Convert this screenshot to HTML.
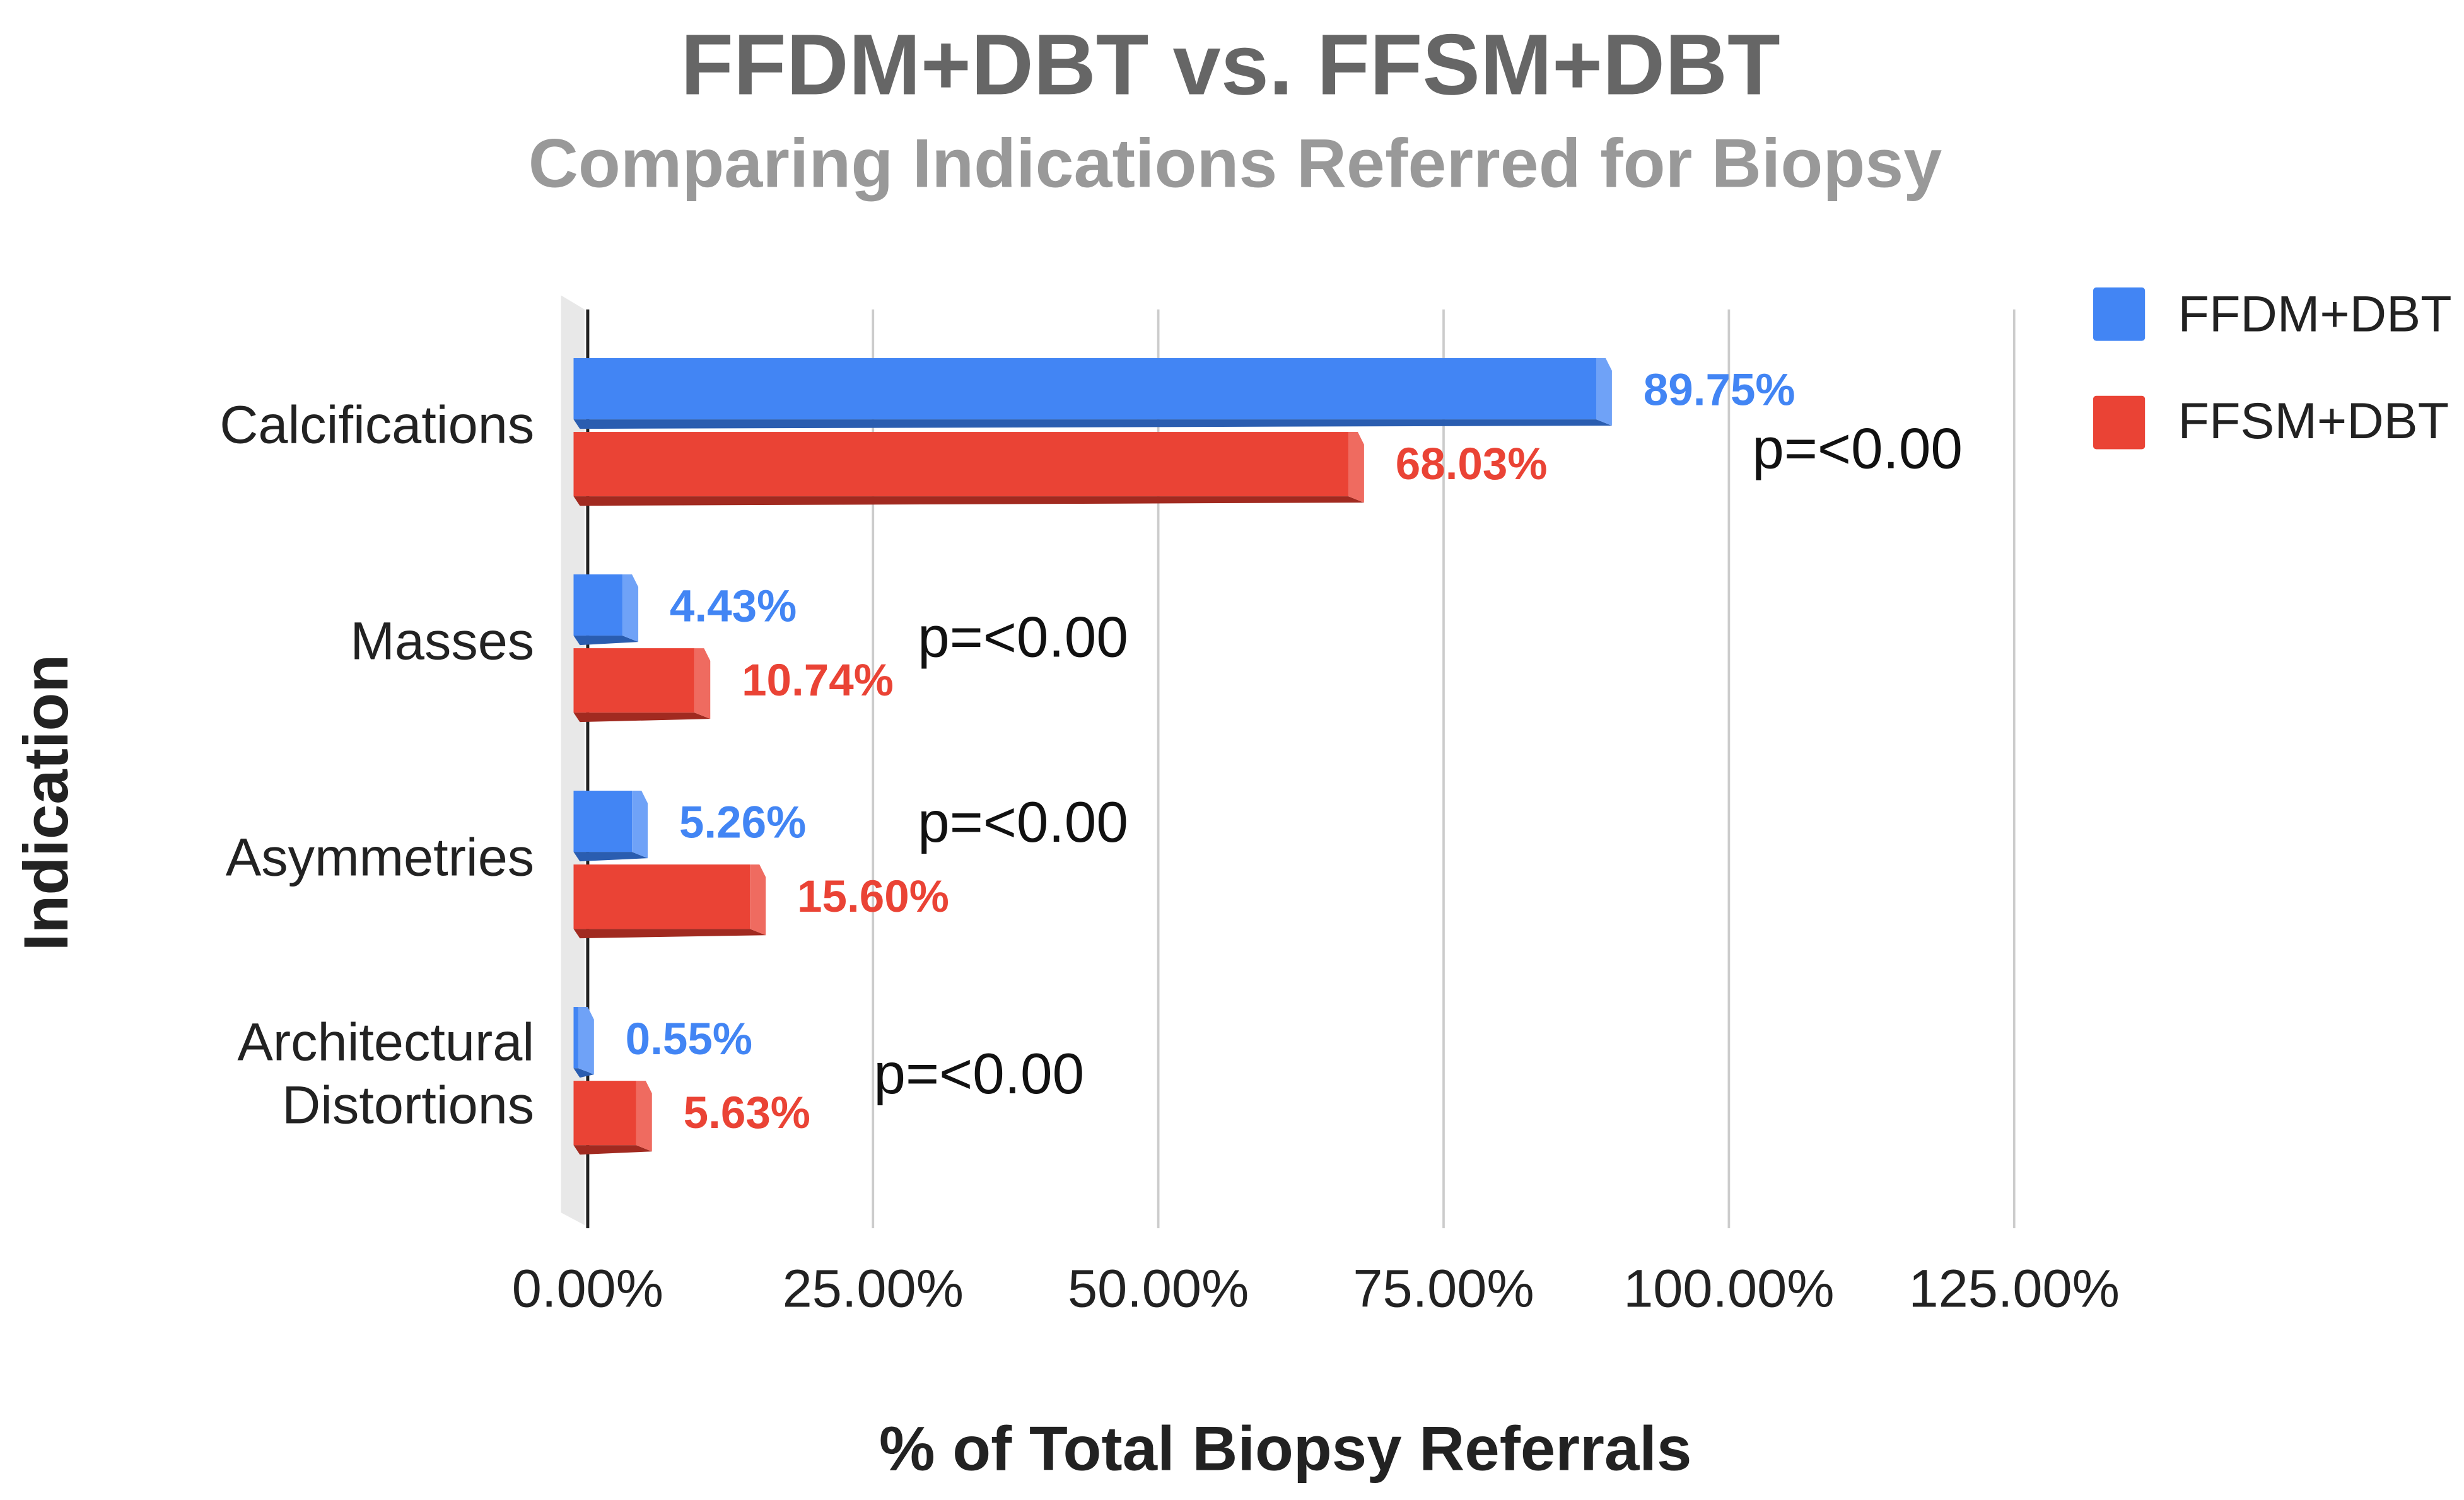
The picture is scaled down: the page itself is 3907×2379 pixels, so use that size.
<!DOCTYPE html>
<html><head><meta charset="utf-8"><style>
html,body{margin:0;padding:0;background:#fff;}
svg{display:block;font-family:"Liberation Sans",Arial,sans-serif;}
</style></head><body>
<svg id="chart" width="3907" height="2379" viewBox="0 0 1568 955" preserveAspectRatio="none">
<text x="783" y="60" text-anchor="middle" font-size="55" font-weight="bold" fill="#666">FFDM+DBT vs. FFSM+DBT</text>
<text x="786" y="119" text-anchor="middle" font-size="44" font-weight="bold" fill="#999">Comparing Indications Referred for Biopsy</text>
<polygon points="357,188 372,197 372,780 357,772" fill="#e8e8e8"/>
<g id="grid"></g>
<g id="bars"></g>
<g id="labels"></g>
<text x="818" y="936" text-anchor="middle" font-size="40" font-weight="bold" fill="#222">% of Total Biopsy Referrals</text>
<text transform="translate(43,511) rotate(-90)" text-anchor="middle" font-size="40" font-weight="bold" fill="#222">Indication</text>
<g>
<rect x="1332" y="183" width="33" height="34" rx="2" fill="#4285f4"/>
<text x="1386" y="211" font-size="32.5" fill="#222">FFDM+DBT</text>
<rect x="1332" y="252" width="33" height="34" rx="2" fill="#ea4335"/>
<text x="1386" y="279" font-size="32.5" fill="#222">FFSM+DBT</text>
</g>
</svg>
<script>
const categories = [["Calcifications"], ["Masses"], ["Asymmetries"], ["Architectural", "Distortions"]];
const ffdmValues = [89.75, 4.43, 5.26, 0.55];
const ffsmValues = [68.03, 10.74, 15.60, 5.63];
const pLabels = ["p=<0.00", "p=<0.00", "p=<0.00", "p=<0.00"];
const tickValues = [0, 25, 50, 75, 100, 125];
const tickLabels = ["0.00%", "25.00%", "50.00%", "75.00%", "100.00%", "125.00%"];

const NS = "http://www.w3.org/2000/svg";
const x = v => 374 + v * 7.262;
const catY = i => 270 + i * 137.7;
function mk(tag, attrs, parent, txt) {
  const e = document.createElementNS(NS, tag);
  for (const k in attrs) e.setAttribute(k, attrs[k]);
  if (txt !== undefined) e.textContent = txt;
  parent.appendChild(e);
  return e;
}
const grid = document.getElementById('grid');
const bars = document.getElementById('bars');
const labels = document.getElementById('labels');

tickValues.forEach((t, i) => {
  const l = mk('line', {x1: x(t), x2: x(t), y1: 197, y2: 782, stroke: t === 0 ? '#222' : '#ccc', 'stroke-width': t === 0 ? 2 : 1.5}, grid);
  
  
  const tx = mk('text', {x: x(t), y: 832, 'text-anchor': 'middle', 'font-size': 34, fill: '#222'}, labels, tickLabels[i]);
  
  
});

function bar(v, top, h, front, side, bottom, name) {
  const x0 = 365, x1 = x(v) - 10;
  const g = mk('g', {}, bars);
  
  
  mk('rect', {x: x0, y: top, width: Math.max(x1 - x0, 1), height: h - 6, fill: front}, g);
  mk('polygon', {points: `${x0},${top+h-6} ${x1},${top+h-6} ${x1+10},${top+h-2} ${x0+4},${top+h}`, fill: bottom}, g);
  mk('polygon', {points: `${x1},${top} ${x1+6},${top} ${x1+10},${top+8} ${x1+10},${top+h-2} ${x1},${top+h-6}`, fill: side}, g);
}

categories.forEach((c, i) => {
  const cy = catY(i);
  const lines = c.length;
  c.forEach((s, j) => {
    const t = mk('text', {x: 340, y: cy + 12 + (j - (lines - 1) / 2) * 40, 'text-anchor': 'end', 'font-size': 34, fill: '#222'}, labels, s);
    
    
  });
  bar(ffdmValues[i], cy - 42, 45, '#4285f4', '#6fa2f7', '#2a5db0', 'bar-ffdm');
  bar(ffsmValues[i], cy + 5, 47, '#ea4335', '#ef6b60', '#a12a20', 'bar-ffsm');
  const bl = mk('text', {x: x(ffdmValues[i]) + 20, y: cy - 12, 'font-size': 28.5, 'font-weight': 'bold', fill: '#4285f4'}, labels, ffdmValues[i].toFixed(2) + '%');
  
  
  const rl = mk('text', {x: x(ffsmValues[i]) + 20, y: cy + 35, 'font-size': 28.5, 'font-weight': 'bold', fill: '#ea4335'}, labels, ffsmValues[i].toFixed(2) + '%');
  
  
});

const pPos = [[1115, 298], [584, 418], [584, 536], [556, 696]];
pLabels.forEach((p, i) => {
  const t = mk('text', {x: pPos[i][0], y: pPos[i][1], 'font-size': 36.5, fill: '#111'}, labels, p);
  
  
});
</script>
</body></html>
